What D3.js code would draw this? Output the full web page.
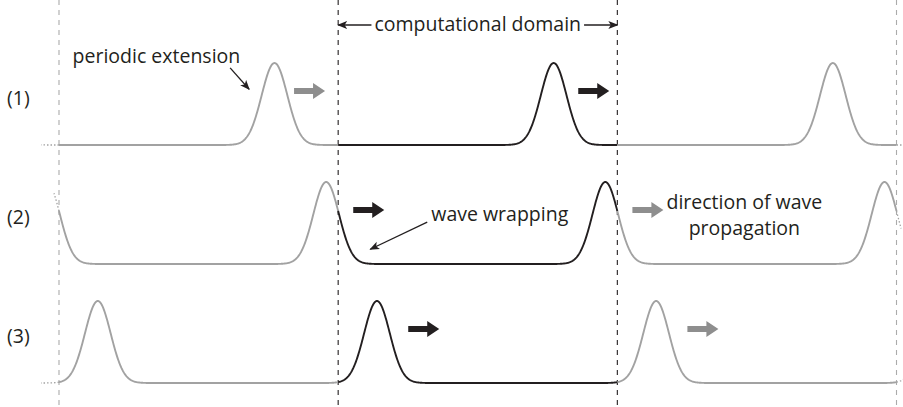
<!DOCTYPE html>
<html>
<head>
<meta charset="utf-8">
<script src="https://cdn.jsdelivr.net/npm/d3@7"></script>
<style>
  body { margin: 0; background: #fff; }
  svg { display: block; font-family: "Open Sans", sans-serif; }
</style>
</head>
<body>
<script>

// Rows and where the pulse sits inside the domain (0..1).
var rowLabels = ['(1)', '(2)', '(3)'];
var pulseCenters = [0.772, 0.957, 0.139];

// Periodic copies: left image, computational domain, right image.
var copies = [-1, 0, 1];
var boundaries = [-1, 0, 1, 2];

// Gaussian width in domain units.
var pulseSigma = 0.046;

// Direction arrows: start of each arrow, in domain units.
var arrowStarts = [[-0.158, 0.860], [0.054, 1.054], [0.251, 1.251]];
var arrowLength = 0.111;

// Text labels.
var domainLabel = 'computational domain';
var notes = [
  { row: 0, u: -0.651, a: 1.0, text: 'periodic extension' },
  { row: 1, u: 0.579, a: 0.52, text: 'wave wrapping' },
  { row: 1, u: 1.455, a: 0.675, text: 'direction of wave' },
  { row: 1, u: 1.455, a: 0.35, text: 'propagation' }
];
var pointers = [
  { row: 0, u0: -0.387, a0: 0.94, u1: -0.319, a1: 0.68 },
  { row: 1, u0: 0.319, a0: 0.51, u1: 0.115, a1: 0.18 }
];

var W = 903, H = 407;
var fontSize = 19.5;
var black = '#231f20', gray = '#a2a2a2', arrowGray = '#8e8e8e';

var svg = d3.select('body').append('svg')
  .attr('width', W).attr('height', H);

// Scales.
var x = d3.scaleLinear().domain([-1, 2]).range([59, 896.5]);
var row = d3.scalePoint().domain(rowLabels).range([145, 383]);
var amp = d3.scaleLinear().domain([0, 1]).range([0, -82]);

// Arrowhead marker for thin annotation lines.
svg.append('defs').append('marker')
  .attr('id', 'head')
  .attr('viewBox', '0 -5 10 10')
  .attr('refX', 9).attr('refY', 0)
  .attr('markerWidth', 10).attr('markerHeight', 10)
  .attr('markerUnits', 'userSpaceOnUse')
  .attr('orient', 'auto')
  .append('path')
  .attr('d', 'M0,-4L10,0L0,4L2.5,0Z')
  .attr('fill', black);

// Periodic gaussian.
function wave(c, t) {
  var s = 0;
  for (var n = -3; n <= 3; n++) {
    var d = t - c - n;
    s += Math.exp(-d * d / (2 * pulseSigma * pulseSigma));
  }
  return s;
}

// Dashed boundaries.
svg.selectAll('line.bound')
  .data(boundaries)
  .enter().append('line')
  .attr('class', 'bound')
  .attr('x1', function(b) { return x(b); })
  .attr('x2', function(b) { return x(b); })
  .attr('y1', 0).attr('y2', H)
  .attr('stroke', function(b) { return b === 0 || b === 1 ? black : '#ababab'; })
  .attr('stroke-width', 1.1)
  .attr('stroke-dasharray', '5,5');

// Curves.
rowLabels.forEach(function(label, i) {

  var c = pulseCenters[i];
  var base = row(label);
  var line = d3.line()
    .x(function(t) { return x(t); })
    .y(function(t) { return base + amp(wave(c, t)); });

  // Each periodic copy.
  copies.forEach(function(k) {
    var ts = d3.range(k, k + 1.0001, 0.002);
    svg.append('path')
      .attr('d', line(ts))
      .attr('fill', 'none')
      .attr('stroke', k === 0 ? black : gray)
      .attr('stroke-width', 1.9);
  });

  // Dotted continuation past the outer boundaries.
  [[-1, -1], [2, 1]].forEach(function(e) {
    var ts = [e[0]], len = 0, t = e[0];
    while (len < 18) {
      var t2 = t + e[1] * 0.0015;
      var dx = x(t2) - x(t), dy = amp(wave(c, t2)) - amp(wave(c, t));
      len += Math.sqrt(dx * dx + dy * dy);
      ts.push(t2);
      t = t2;
    }
    svg.append('path')
      .attr('d', line(ts))
      .attr('fill', 'none')
      .attr('stroke', gray)
      .attr('stroke-width', 1.3)
      .attr('stroke-dasharray', '1.5,2');
  });

  // Row label.
  svg.append('text')
    .attr('x', 7)
    .attr('y', base + amp(0.57))
    .attr('dy', '0.35em')
    .attr('font-size', fontSize)
    .attr('fill', black)
    .text(label);

  // Direction arrows.
  arrowStarts[i].forEach(function(u) {
    var x0 = x(u), x1 = x(u + arrowLength);
    var y = base + amp(0.66);
    var hx = x1 - 12;
    var d = 'M' + x0 + ',' + (y - 3) + 'L' + hx + ',' + (y - 3) +
      'L' + hx + ',' + (y - 8) + 'L' + x1 + ',' + y +
      'L' + hx + ',' + (y + 8) + 'L' + hx + ',' + (y + 3) +
      'L' + x0 + ',' + (y + 3) + 'Z';
    svg.append('path')
      .attr('d', d)
      .attr('fill', u >= 0 && u < 1 ? black : arrowGray);
  });

});

// Computational domain label with arrows.
var topY = 25;
var domainText = svg.append('text')
  .attr('x', x(0.5))
  .attr('y', topY)
  .attr('dy', '0.32em')
  .attr('text-anchor', 'middle')
  .attr('font-size', fontSize)
  .attr('fill', black)
  .text(domainLabel);
var tw = domainText.node().getComputedTextLength();
[[x(0.5) - tw / 2 - 3, x(0)], [x(0.5) + tw / 2 + 3, x(1)]].forEach(function(p) {
  svg.append('line')
    .attr('x1', p[0]).attr('x2', p[1])
    .attr('y1', topY).attr('y2', topY)
    .attr('stroke', black)
    .attr('stroke-width', 1.3)
    .attr('marker-end', 'url(#head)');
});

// Notes.
svg.selectAll('text.note')
  .data(notes)
  .enter().append('text')
  .attr('class', 'note')
  .attr('x', function(d) { return x(d.u); })
  .attr('y', function(d) { return row(rowLabels[d.row]) + amp(d.a); })
  .attr('text-anchor', 'middle')
  .attr('font-size', fontSize)
  .attr('fill', black)
  .text(function(d) { return d.text; });

// Pointer lines.
svg.selectAll('line.pointer')
  .data(pointers)
  .enter().append('line')
  .attr('class', 'pointer')
  .attr('x1', function(d) { return x(d.u0); })
  .attr('y1', function(d) { return row(rowLabels[d.row]) + amp(d.a0); })
  .attr('x2', function(d) { return x(d.u1); })
  .attr('y2', function(d) { return row(rowLabels[d.row]) + amp(d.a1); })
  .attr('stroke', black)
  .attr('stroke-width', 1.3)
  .attr('marker-end', 'url(#head)');

</script>
</body>
</html>
